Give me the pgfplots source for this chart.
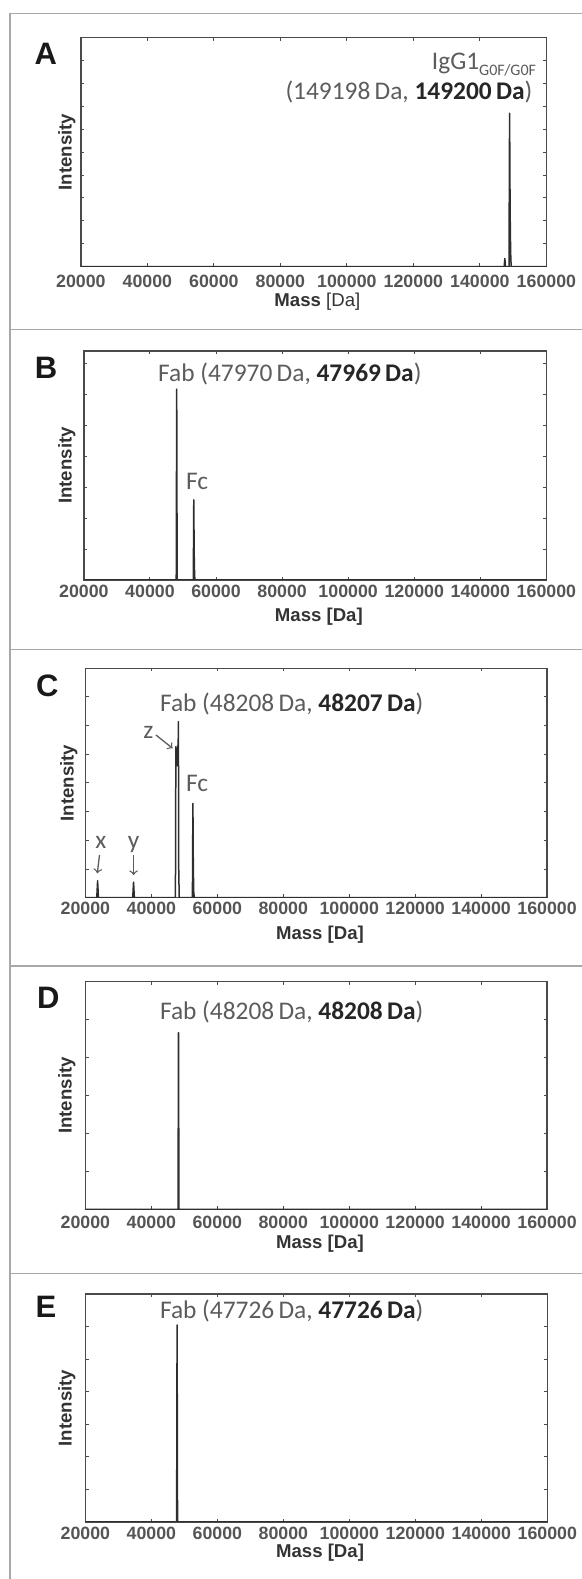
\documentclass[border=0pt]{standalone}
\usepackage{fontspec}
\setmainfont{Liberation Sans}
\newfontfamily\annfont{Carlito}
\usepackage{pgfplots}
\pgfplotsset{compat=1.18}

\definecolor{axgray}{HTML}{4A4A4A}
\definecolor{txtgray}{HTML}{555555}
\definecolor{anngray}{HTML}{5C5C5C}
\definecolor{anndark}{HTML}{262626}
\definecolor{framegray}{HTML}{A8A8A8}
\definecolor{peak}{HTML}{2E2E2E}

\newcommand\af{\annfont\fontsize{12.7}{15}\selectfont\color{anngray}}
\newcommand\bd[1]{{\bfseries\color{anndark}#1}}
\newcommand\panelfont{\fontsize{15.5}{18}\selectfont\bfseries\color{black!90}}

\pgfplotsset{
  ms/.style={
    scale only axis, anchor=south west,
    xmin=20000, xmax=160000, ymin=0,
    scaled x ticks=false, scaled y ticks=false,
    xtick={20000,40000,60000,80000,100000,120000,140000,160000},
    xticklabels={20000,40000,60000,80000,100000,120000,140000,160000},
    yticklabels={},
    tick align=inside,
    major tick length=1.6pt,
    axis line style={axgray, line width=0.65pt},
    every tick/.style={axgray, line width=0.5pt},
    tick label style={font=\fontsize{8.9}{10}\selectfont\bfseries, text=txtgray},
    label style={font=\fontsize{9.3}{11}\selectfont\bfseries, text=black!80},
    xlabel={Mass [Da]}, ylabel={Intensity},
  },
  spec/.style={peak, line width=0.75pt, line join=round, no markers},
}

\begin{document}
\begin{tikzpicture}
\useasboundingbox (0,0) rectangle (291pt,789.5pt);

% panel frames
\draw[framegray, line width=0.7pt] (291pt,782.85pt) -- (5pt,782.85pt) -- (5pt,0pt);
\foreach \yy in {624.75,464.75,306.5,152.75}
  \draw[framegray, line width=0.7pt] (5pt,\yy pt) -- (291pt,\yy pt);

% A
\begin{axis}[ms, at={(40.45pt,656.15pt)}, width=232.75pt, height=114.5pt,
  ymax=10, ytick={1,...,9},
  xticklabel style={anchor=center, yshift=-7.5pt},
  xlabel={Mass {\mdseries [Da]}},
  xlabel style={at={(axis description cs:0.508,-0.153)}, anchor=center},
  ylabel style={at={(axis description cs:-0.0303,0.5)}, anchor=center}]
\addplot[spec] coordinates {
  (20000,0) (147300,0) (147500,0.36) (147700,0) (148750,0) (148930,6.70)
  (149050,3.4) (149150,1.5) (149300,0.3) (149450,0) (160000,0)
};
\end{axis}

% B
\begin{axis}[ms, at={(41.95pt,499.5pt)}, width=231.25pt, height=114.5pt,
  ymax=7.4, ytick={1,...,7},
  xticklabel style={anchor=center, yshift=-5.85pt},
  xlabel style={at={(axis description cs:0.508,-0.160)}, anchor=center},
  ylabel style={at={(axis description cs:-0.037,0.5)}, anchor=center}]
\addplot[spec] coordinates {
  (20000,0) (47950,0) (48090,6.17) (48230,0) (53120,0) (53260,2.59)
  (53380,0.86) (53500,0.2) (53600,0) (160000,0)
};
\end{axis}

% C
\begin{axis}[ms, at={(42.7pt,340.65pt)}, width=230.85pt, height=114.7pt,
  ymax=8, ytick={1,...,7},
  xticklabel style={anchor=center, yshift=-5.3pt},
  xlabel style={at={(axis description cs:0.508,-0.163)}, anchor=center},
  ylabel style={at={(axis description cs:-0.036,0.5)}, anchor=center}]
\addplot[spec] coordinates {
  (20000,0) (23450,0) (23700,0.59) (23950,0) (34350,0) (34600,0.54) (34850,0)
  (47300,0) (47400,4.0) (47450,5.27) (47800,4.6) (48150,5.5) (48200,6.14)
  (48300,1.0) (48450,0) (52450,0) (52600,3.29) (52720,1.08) (52850,0.2)
  (53000,0) (160000,0)
};
\end{axis}

% D
\begin{axis}[ms, at={(42.7pt,184.85pt)}, width=230.85pt, height=113.8pt,
  ymax=6, ytick={1,...,5},
  xticklabel style={anchor=center, yshift=-6.5pt},
  xlabel style={at={(axis description cs:0.508,-0.149)}, anchor=center},
  ylabel style={at={(axis description cs:-0.0403,0.5)}, anchor=center}]
\addplot[spec] coordinates {
  (20000,0) (48090,0) (48230,4.66) (48370,0) (160000,0)
};
\end{axis}

% E
\begin{axis}[ms, at={(42.7pt,28.5pt)}, width=230.95pt, height=114pt,
  ymax=7, ytick={1,...,6},
  xticklabel style={anchor=center, yshift=-5.65pt},
  xlabel style={at={(axis description cs:0.508,-0.136)}, anchor=center},
  ylabel style={at={(axis description cs:-0.0403,0.5)}, anchor=center}]
\addplot[spec] coordinates {
  (20000,0) (47650,0) (47790,6.05) (47930,0) (160000,0)
};
\end{axis}

% panel letters
\node[font=\panelfont] at (22.9pt,762.4pt) {A};
\node[font=\panelfont] at (23pt,605.75pt) {B};
\node[font=\panelfont] at (23.65pt,446.6pt) {C};
\node[font=\panelfont] at (24.15pt,290.75pt) {D};
\node[font=\panelfont] at (23pt,136pt) {E};

% annotations
\node[inner sep=0, anchor=base east] at (268.2pt,754.5pt)
  {\af IgG1\raisebox{-3pt}{\fontsize{8}{9}\selectfont G0F/G0F}};
\node[inner sep=0, anchor=base east] at (266.35pt,739.5pt)
  {\af (149198\,Da, \bd{149200\,Da})};

\node[inner sep=0, anchor=base west] at (78.9pt,598.65pt)
  {\af Fab (47970\,Da, \bd{47969\,Da})};
\node[inner sep=0, anchor=base west] at (92.8pt,544.5pt) {\af Fc};

\node[inner sep=0, anchor=base west] at (79.8pt,433.65pt)
  {\af Fab (48208\,Da, \bd{48207\,Da})};
\node[inner sep=0, anchor=base west] at (92.8pt,393.65pt) {\af Fc};
\node[inner sep=0, anchor=base] at (74.25pt,420.35pt) {\af z};
\node[inner sep=0, anchor=base] at (50.4pt,365.35pt) {\af x};
\node[inner sep=0, anchor=base] at (66.8pt,365.35pt) {\af y};
\draw[anngray, line width=0.65pt, ->] (49.75pt,362pt) -- (48.65pt,352.85pt);
\draw[anngray, line width=0.65pt, ->] (66.8pt,362pt) -- (66.8pt,352pt);
\draw[anngray, line width=0.65pt, ->] (77.95pt,422pt) -- (86.3pt,415.35pt);

\node[inner sep=0, anchor=base west] at (79.8pt,279.5pt)
  {\af Fab (48208\,Da, \bd{48208\,Da})};

\node[inner sep=0, anchor=base west] at (79.8pt,130.35pt)
  {\af Fab (47726\,Da, \bd{47726\,Da})};
\end{tikzpicture}
\end{document}
